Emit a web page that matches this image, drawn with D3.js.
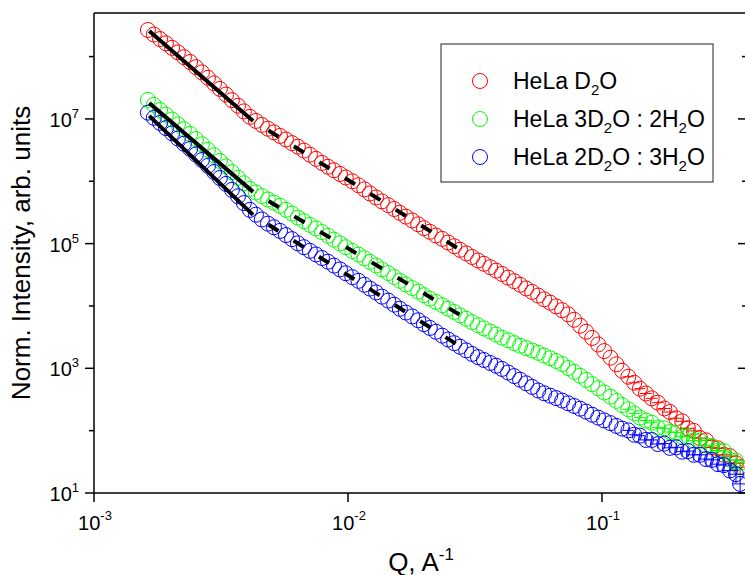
<!DOCTYPE html>
<html>
<head>
<meta charset="utf-8">
<script src="https://cdn.jsdelivr.net/npm/d3@7"></script>
<style>
  body { margin: 0; background: #fff; }
  svg { font-family: "Liberation Sans", Arial, sans-serif; }
</style>
</head>
<body>
<svg id="chart" width="745" height="575"></svg>
<script>
// Q values (A^-1), shared by the three samples
var q = [0.00163, 0.00172, 0.00182, 0.00192, 0.00203, 0.00214, 0.00226, 0.00239, 0.00252, 0.00266,
  0.00281, 0.00297, 0.00313, 0.00331, 0.00349, 0.00369, 0.00389, 0.00411, 0.00434, 0.00458,
  0.00484, 0.00511, 0.0054, 0.0057, 0.00602, 0.00635, 0.00671, 0.00708, 0.00748, 0.0079,
  0.00834, 0.00881, 0.0093, 0.0098, 0.0104, 0.011, 0.0116, 0.0122, 0.0129, 0.0136,
  0.0144, 0.0152, 0.016, 0.0169, 0.0179, 0.0189, 0.0199, 0.021, 0.0222, 0.0235,
  0.0248, 0.0262, 0.0276, 0.0292, 0.0308, 0.0325, 0.0343, 0.0363, 0.0383, 0.0404,
  0.0427, 0.0451, 0.0476, 0.0503, 0.0531, 0.0561, 0.0592, 0.0625, 0.066, 0.0697,
  0.0736, 0.0777, 0.082, 0.0866, 0.0915, 0.0966, 0.102, 0.108, 0.114, 0.12,
  0.127, 0.134, 0.141, 0.149, 0.157, 0.166, 0.176, 0.185, 0.196, 0.207,
  0.218, 0.23, 0.243, 0.257, 0.271, 0.286, 0.302, 0.319, 0.337, 0.35];

var red = [2.67e8, 2.26e8, 1.91e8, 1.63e8, 1.38e8, 1.17e8, 9.78e7, 8.19e7, 6.76e7, 5.58e7,
  4.57e7, 3.72e7, 3.03e7, 2.46e7, 2.00e7, 1.63e7, 1.32e7, 1.08e7, 9.29e6, 8.01e6,
  6.97e6, 6.10e6, 5.34e6, 4.68e6, 4.09e6, 3.59e6, 3.10e6, 2.67e6, 2.29e6, 1.97e6,
  1.71e6, 1.50e6, 1.31e6, 1.15e6, 1.00e6, 8.63e5, 7.42e5, 6.38e5, 5.50e5, 4.76e5,
  4.14e5, 3.59e5, 3.12e5, 2.71e5, 2.35e5, 2.04e5, 1.77e5, 1.55e5, 1.35e5, 1.19e5,
  1.04e5, 9.08e4, 7.96e4, 6.97e4, 6.10e4, 5.36e4, 4.75e4, 4.19e4, 3.69e4, 3.26e4,
  2.85e4, 2.50e4, 2.19e4, 1.91e4, 1.68e4, 1.47e4, 1.28e4, 1.13e4, 9.85e3, 8.56e3,
  7.33e3, 6.01e3, 4.82e3, 3.86e3, 3.07e3, 2.41e3, 1.89e3, 1.48e3, 1.16e3, 915,
  733, 587, 471, 395, 330, 281, 227, 199, 158, 141,
  109, 99, 76, 70, 54, 52, 41, 39, 30, 26];

var green = [2.02e7, 1.68e7, 1.39e7, 1.17e7, 9.78e6, 8.19e6, 6.86e6, 5.75e6, 4.75e6, 3.92e6,
  3.21e6, 2.61e6, 2.12e6, 1.73e6, 1.40e6, 1.14e6, 9.29e5, 7.55e5, 6.61e5, 5.79e5,
  5.11e5, 4.54e5, 4.04e5, 3.49e5, 3.03e5, 2.62e5, 2.29e5, 2.00e5, 1.75e5, 1.53e5,
  1.34e5, 1.16e5, 1.01e5, 8.76e4, 7.61e4, 6.66e4, 5.83e4, 5.11e4, 4.47e4, 3.87e4,
  3.37e4, 2.91e4, 2.53e4, 2.22e4, 1.94e4, 1.70e4, 1.49e4, 1.31e4, 1.16e4, 1.03e4,
  9.05e3, 8.01e3, 7.07e3, 6.23e3, 5.52e3, 4.89e3, 4.36e3, 3.89e3, 3.47e3, 3.10e3,
  2.81e3, 2.54e3, 2.30e3, 2.11e3, 1.93e3, 1.77e3, 1.60e3, 1.45e3, 1.31e3, 1.17e3,
  1.01e3, 879, 761, 652, 558, 478, 409, 351, 300, 257,
  220, 189, 162, 145, 134, 112, 109, 95, 93, 80,
  81, 69, 69, 58, 57, 48, 47, 34, 33, 24];

var blue = [1.26e7, 1.04e7, 8.63e6, 7.12e6, 5.88e6, 4.85e6, 4.00e6, 3.31e6, 2.69e6, 2.19e6,
  1.77e6, 1.41e6, 1.13e6, 9.08e5, 7.28e5, 5.75e5, 4.47e5, 3.48e5, 2.91e5, 2.44e5,
  2.09e5, 1.83e5, 1.60e5, 1.37e5, 1.18e5, 1.01e5, 8.76e4, 7.66e4, 6.71e4, 5.88e4,
  5.13e4, 4.44e4, 3.86e4, 3.35e4, 2.90e4, 2.53e4, 2.19e4, 1.90e4, 1.65e4, 1.41e4,
  1.22e4, 1.05e4, 9.02e3, 7.84e3, 6.79e3, 5.90e3, 5.11e3, 4.44e3, 3.86e3, 3.34e3,
  2.90e3, 2.53e3, 2.22e3, 1.94e3, 1.70e3, 1.51e3, 1.36e3, 1.22e3, 1.10e3, 978,
  856, 750, 657, 575, 503, 441, 398, 364, 333, 304,
  275, 249, 225, 202, 180, 162, 146, 132, 119, 108,
  101, 86, 83, 71, 71, 61, 62, 53, 54, 46,
  47, 41, 41, 35, 34, 29, 28, 23, 20, 14];

// error bars on the high-Q tail (from index errStart on): relative dQ and dI
var errStart = 80;
var qRes = [0.05, 0.05, 0.05, 0.055, 0.055, 0.055, 0.06, 0.06, 0.06, 0.06,
  0.065, 0.065, 0.065, 0.065, 0.07, 0.07, 0.07, 0.07, 0.07, 0.07];
var redErr = [0.06, 0.06, 0.07, 0.07, 0.08, 0.08, 0.09, 0.09, 0.1, 0.11,
  0.12, 0.12, 0.13, 0.14, 0.15, 0.16, 0.17, 0.18, 0.19, 0.2];
var greenErr = [0.09, 0.1, 0.1, 0.11, 0.12, 0.13, 0.13, 0.14, 0.15, 0.16,
  0.17, 0.18, 0.19, 0.2, 0.2, 0.21, 0.22, 0.23, 0.24, 0.25];
var blueErr = [0.12, 0.13, 0.13, 0.14, 0.15, 0.15, 0.16, 0.17, 0.18, 0.18,
  0.19, 0.2, 0.21, 0.22, 0.23, 0.24, 0.25, 0.27, 0.28, 0.3];

// model fits: solid part and dashed continuation
var fitSolidQ = [0.00165, 0.00423];
var fitDashQ = [0.00423, 0.0302];
var redFitSolid = [2.57e8, 9.29e6], redFitDash = [9.29e6, 6.38e4];
var greenFitSolid = [1.80e7, 6.76e5], greenFitDash = [6.76e5, 5.79e3];
var blueFitSolid = [1.12e7, 2.89e5], blueFitDash = [2.89e5, 1.78e3];

var legendLabels = [
  [["HeLa D"], ["2", "sub"], ["O"]],
  [["HeLa 3D"], ["2", "sub"], ["O : 2H"], ["2", "sub"], ["O"]],
  [["HeLa 2D"], ["2", "sub"], ["O : 3H"], ["2", "sub"], ["O"]]
];
var colors = ["#ff0000", "#00ff00", "#0000ff"];
var yTicks = [1e1, 1e2, 1e3, 1e4, 1e5, 1e6, 1e7, 1e8];
var xTicks = [1e-3, 1e-2, 1e-1];

var svg = d3.select("#chart");
var mLeft = 94, mRight = 747, mTop = 13, mBottom = 493;

var x = d3.scaleLog().domain([1e-3, 0.3724]).range([mLeft, mRight]);
var y = d3.scaleLog().domain([10, 5e8]).range([mBottom, mTop]);

var plot = svg.append("g");

function drawSeries(vals, errs, color) {
  var pts = q.map(function(d, i) { return { q: d, v: vals[i], i: i }; });
  var g = plot.append("g");
  g.selectAll("circle")
    .data(pts)
    .enter()
    .append("circle")
    .attr("cx", function(d) { return x(d.q); })
    .attr("cy", function(d) { return y(d.v); })
    .attr("r", 7.5)
    .attr("fill", "none")
    .attr("stroke", color)
    .attr("stroke-width", 1);
  var tail = pts.filter(function(d) { return d.i >= errStart; });
  g.selectAll("line.ey")
    .data(tail)
    .enter()
    .append("line")
    .attr("x1", function(d) { return x(d.q); })
    .attr("x2", function(d) { return x(d.q); })
    .attr("y1", function(d) { return y(d.v * (1 + errs[d.i - errStart])); })
    .attr("y2", function(d) { return y(d.v * (1 - errs[d.i - errStart])); })
    .attr("stroke", color);
  g.selectAll("line.ex")
    .data(tail)
    .enter()
    .append("line")
    .attr("x1", function(d) { return x(d.q * (1 - qRes[d.i - errStart])); })
    .attr("x2", function(d) { return x(d.q * (1 + qRes[d.i - errStart])); })
    .attr("y1", function(d) { return y(d.v); })
    .attr("y2", function(d) { return y(d.v); })
    .attr("stroke", color);
}

drawSeries(red, redErr, colors[0]);
drawSeries(green, greenErr, colors[1]);
drawSeries(blue, blueErr, colors[2]);

var fitLine = d3.line()
  .x(function(d) { return x(d[0]); })
  .y(function(d) { return y(d[1]); });

function drawFit(solid, dash) {
  plot.append("path")
    .attr("d", fitLine(d3.zip(fitSolidQ, solid)))
    .attr("fill", "none")
    .attr("stroke", "#000")
    .attr("stroke-width", 4);
  plot.append("path")
    .attr("d", fitLine(d3.zip(fitDashQ, dash)))
    .attr("fill", "none")
    .attr("stroke", "#000")
    .attr("stroke-width", 4)
    .attr("stroke-dasharray", "12,18")
    .attr("stroke-dashoffset", 12);
}

drawFit(redFitSolid, redFitDash);
drawFit(greenFitSolid, greenFitDash);
drawFit(blueFitSolid, blueFitDash);

// frame
var axes = svg.append("g").attr("stroke", "#000").attr("stroke-width", 1.5);
axes.append("line").attr("x1", mLeft).attr("x2", mLeft).attr("y1", mTop).attr("y2", mBottom);
axes.append("line").attr("x1", mRight).attr("x2", mRight).attr("y1", mTop).attr("y2", mBottom);
axes.append("line").attr("x1", mLeft).attr("x2", mRight).attr("y1", mTop).attr("y2", mTop);
axes.append("line").attr("x1", mLeft).attr("x2", mRight).attr("y1", mBottom).attr("y2", mBottom);

function isMajorY(d) { return Math.round(Math.log10(d)) % 2 === 1; }

axes.selectAll("line.yl")
  .data(yTicks)
  .enter()
  .append("line")
  .attr("x1", function(d) { return mLeft - (isMajorY(d) ? 9 : 5); })
  .attr("x2", mLeft)
  .attr("y1", function(d) { return y(d); })
  .attr("y2", function(d) { return y(d); });

axes.selectAll("line.yr")
  .data(yTicks)
  .enter()
  .append("line")
  .attr("x1", function(d) { return mRight - (isMajorY(d) ? 9 : 5); })
  .attr("x2", mRight)
  .attr("y1", function(d) { return y(d); })
  .attr("y2", function(d) { return y(d); });

axes.selectAll("line.xb")
  .data(xTicks)
  .enter()
  .append("line")
  .attr("x1", function(d) { return x(d); })
  .attr("x2", function(d) { return x(d); })
  .attr("y1", mBottom)
  .attr("y2", mBottom + 9);

// tick labels: 10 with a raised exponent
var yLab = svg.append("g").attr("font-size", 20).attr("text-anchor", "end");
yLab.selectAll("text")
  .data(yTicks.filter(isMajorY))
  .enter()
  .append("text")
  .attr("x", 79)
  .attr("y", function(d) { return y(d) + 8; })
  .each(function(d) {
    var t = d3.select(this);
    t.append("tspan").text("10");
    t.append("tspan").attr("font-size", 13).attr("dy", -9).text(Math.round(Math.log10(d)));
  });

var xLab = svg.append("g").attr("font-size", 20).attr("text-anchor", "middle");
xLab.selectAll("text")
  .data(xTicks)
  .enter()
  .append("text")
  .attr("x", function(d) { return x(d) + 1; })
  .attr("y", 530)
  .each(function(d) {
    var t = d3.select(this);
    t.append("tspan").text("10");
    t.append("tspan").attr("font-size", 13).attr("dy", -10).text("-" + Math.round(-Math.log10(d)));
  });

// axis titles
var xt = svg.append("text")
  .attr("x", 421)
  .attr("y", 571)
  .attr("font-size", 26)
  .attr("text-anchor", "middle");
xt.append("tspan").text("Q, A");
xt.append("tspan").attr("font-size", 17).attr("dy", -11).text("-1");

svg.append("text")
  .attr("transform", "translate(30," + ((mTop + mBottom) / 2) + ") rotate(-90)")
  .attr("font-size", 26)
  .attr("text-anchor", "middle")
  .text("Norm. Intensity, arb. units");

// legend
var legend = svg.append("g");
legend.append("rect")
  .attr("x", 441).attr("y", 44)
  .attr("width", 272).attr("height", 138)
  .attr("fill", "#fff")
  .attr("stroke", "#222")
  .attr("stroke-width", 1);

legendLabels.forEach(function(parts, i) {
  var cy = 81 + i * 38;
  legend.append("circle")
    .attr("cx", 480).attr("cy", cy).attr("r", 7.5)
    .attr("fill", "none").attr("stroke", colors[i]).attr("stroke-width", 1);
  var t = legend.append("text")
    .attr("x", 513).attr("y", cy + 8)
    .attr("font-size", 23);
  var shift = 0;
  parts.forEach(function(p) {
    var s = t.append("tspan").text(p[0]);
    if (p[1] === "sub") {
      s.attr("font-size", 15).attr("dy", 6 - shift);
      shift = 6;
    } else {
      s.attr("dy", -shift);
      shift = 0;
    }
  });
});
</script>
</body>
</html>
